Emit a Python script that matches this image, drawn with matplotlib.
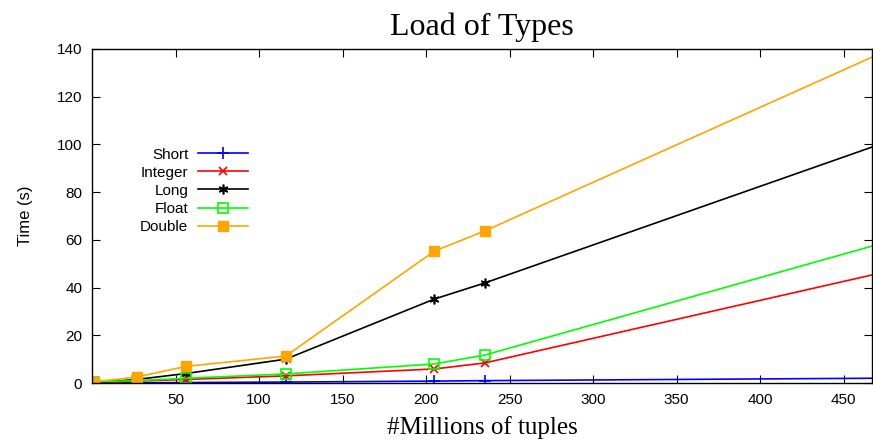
import matplotlib
matplotlib.use("Agg")
import matplotlib.pyplot as plt

# millions of tuples
tuples = [1, 26.7, 56.5, 116, 205, 235, 467]

short_t = [0.0, 0.1, 0.2, 0.4, 0.8, 1.0, 2.0]
integer_t = [0.0, 0.8, 1.5, 3.0, 5.9, 8.4, 45.3]
long_t = [0.0, 1.5, 4.0, 10.0, 35.2, 41.9, 98.9]
float_t = [0.5, 1.0, 2.0, 3.8, 8.0, 11.7, 57.4]
double_t = [0.5, 2.5, 7.0, 11.3, 55.3, 63.7, 136.6]

series = [
    ("Short", short_t, "#0000ff", dict(marker="+", ms=8, mew=1.2)),
    ("Integer", integer_t, "#ff0000", dict(marker="x", ms=6, mew=1.2)),
    ("Long", long_t, "#000000", dict(marker=(6, 2, 0), ms=7, mew=1.2)),
    ("Float", float_t, "#00ff00", dict(marker="s", ms=7, mew=1.2, mfc="none")),
    ("Double", double_t, "#ffa500", dict(marker="s", ms=7, mew=1.0)),
]

fig = plt.figure(figsize=(8.73, 4.43), dpi=100)
ax = fig.add_axes([0.1054, 0.1354, 0.8935, 0.7540])

for name, vals, col, mk in series:
    # last point lies on the right border, gnuplot shows no marker there
    ax.plot(tuples, vals, color=col, lw=1.2, label=name,
            markevery=list(range(len(tuples) - 1)), **mk)

ax.set_xlim(0, tuples[-1])
ax.set_ylim(0, 140)
ax.set_xticks([50, 100, 150, 200, 250, 300, 350, 400, 450])
ax.set_yticks(range(0, 141, 20))
ax.tick_params(direction="in", length=6, width=0.8, top=True, right=True,
               labelsize=11)
ax.tick_params(axis="y", pad=7)
ax.tick_params(axis="x", pad=7)
for lab in ax.get_xticklabels() + ax.get_yticklabels():
    lab.set_family("Liberation Sans")
for s in ax.spines.values():
    s.set_linewidth(1.0)

ax.set_title("Load of Types", family="Liberation Serif", fontsize=23, pad=10)
ax.set_xlabel("#Millions of tuples", family="Liberation Serif", fontsize=18, labelpad=7)
ax.set_ylabel("Time (s)", family="Liberation Sans", fontsize=12, labelpad=17)

ax.legend(loc="upper left", bbox_to_anchor=(0.048, 0.737), frameon=False,
          markerfirst=False, handlelength=3.3, labelspacing=0.27,
          prop={"family": "Liberation Sans", "size": 11}, borderpad=0.2,
          handletextpad=0.6)

fig.savefig("out.png", dpi=100)
